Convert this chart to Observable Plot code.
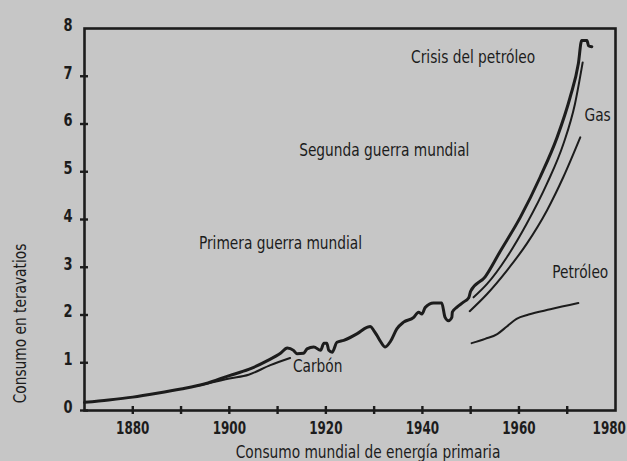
<!DOCTYPE html>
<html>
<head>
<meta charset="utf-8">
<script src="https://cdn.jsdelivr.net/npm/d3@7"></script>
<script src="https://cdn.jsdelivr.net/npm/@observablehq/plot@0.6"></script>
<style>
  html, body { margin: 0; padding: 0; background: #c6c6c6; }
  svg text { font-stretch: condensed; }
</style>
</head>
<body>
<div id="chart"></div>
<script>
// ---- data ----
const totalYears  = [1870, 1875, 1880, 1885, 1890, 1895, 1900, 1904, 1908, 1910.6, 1912, 1913.3, 1914, 1915.4, 1916.1, 1917.5, 1918.9, 1919.6, 1920.2, 1920.6, 1921.3, 1922.3, 1923.7, 1926.5, 1928.5, 1929.2, 1929.9, 1930.6, 1931.3, 1932.3, 1933.4, 1934.7, 1936.1, 1938.2, 1939.2, 1939.9, 1940.6, 1942.3, 1944.0, 1944.7, 1945.4, 1946.1, 1946.2, 1947.1, 1948.5, 1949.6, 1950.0, 1953.0, 1956.1, 1960.3, 1964.4, 1967.9, 1970.6, 1972.3, 1973.0, 1974.1, 1974.4, 1975.1];
const totalValues = [0.17, 0.22, 0.28, 0.36, 0.45, 0.56, 0.73, 0.86, 1.05, 1.2, 1.31, 1.26, 1.19, 1.2, 1.29, 1.33, 1.26, 1.41, 1.41, 1.26, 1.22, 1.43, 1.47, 1.61, 1.74, 1.76, 1.68, 1.57, 1.45, 1.33, 1.45, 1.71, 1.85, 1.95, 2.06, 2.02, 2.16, 2.25, 2.25, 1.95, 1.88, 1.95, 2.06, 2.16, 2.27, 2.36, 2.5, 2.8, 3.33, 4.05, 4.89, 5.72, 6.56, 7.26, 7.75, 7.75, 7.64, 7.62];

const carbonYears  = [1893, 1897, 1900, 1904, 1908.5, 1912.6];
const carbonValues = [0.51, 0.6, 0.67, 0.75, 0.95, 1.1];

const secondYears  = [1950.6, 1953.4, 1957.5, 1961.6, 1965.8, 1969.2, 1971.6, 1973.2];
const secondValues = [2.37, 2.65, 3.21, 3.91, 4.75, 5.58, 6.42, 7.29];

const thirdYears  = [1949.8, 1953.4, 1957.5, 1961.6, 1965.8, 1969.2, 1972.7];
const thirdValues = [2.08, 2.44, 2.93, 3.49, 4.19, 4.89, 5.72];

const oilYears  = [1950.2, 1953, 1955.5, 1957.5, 1959.5, 1962, 1966.5, 1972.3];
const oilValues = [1.41, 1.5, 1.6, 1.76, 1.92, 2.01, 2.12, 2.25];

const xTickLabels = [1880, 1900, 1920, 1940, 1960, 1980];
const xTickMarks  = [1880, 1890, 1900, 1910, 1920, 1930, 1940, 1950, 1960, 1970];
const yTickLabels = [0, 1, 2, 3, 4, 5, 6, 7, 8];
const yTickMarks  = [0, 1, 2, 3, 4, 5, 6, 7];

const labelTexts  = ["Crisis del petróleo", "Segunda guerra mundial", "Primera guerra mundial", "Carbón", "Petróleo", "Gas"];
const labelYears  = [1950.5, 1932.1, 1910.6, 1918.3, 1972.7, 1976.3];
const labelValues = [7.39, 5.44, 3.50, 0.92, 2.89, 6.18];

const xTitle = "Consumo mundial de energía primaria";
const yTitle = "Consumo en teravatios";

// ---- build tables ----
const toRows = (series, ys, vs) => ys.map((y, i) => ({series, year: y, value: vs[i]}));
const totalRows  = toRows("total", totalYears, totalValues);
const thinRows   = [
  ...toRows("carbon", carbonYears, carbonValues),
  ...toRows("second", secondYears, secondValues),
  ...toRows("third", thirdYears, thirdValues),
  ...toRows("oil", oilYears, oilValues)
];
const labels = labelTexts.map((t, i) => ({text: t, year: labelYears[i], value: labelValues[i]}));

// ---- layout ----
const W = 627, H = 461;
const mL = 84, mR = 12, mT = 28, mB = 51;
const frameW = W - mL - mR, frameH = H - mT - mB;
const ink = "#1c1c1c";
const font = "'Liberation Sans Narrow', 'Arial Narrow', 'DejaVu Sans Condensed', 'Roboto Condensed', 'DejaVu Sans', sans-serif";

const chart = Plot.plot({
  width: W, height: H,
  marginLeft: mL, marginRight: mR, marginTop: mT, marginBottom: mB,
  x: {domain: [1870, 1980]},
  y: {domain: [0, 8]},
  style: {background: "#c6c6c6", color: ink, fontFamily: font},
  marks: [
    Plot.frame({stroke: ink, strokeWidth: 2.6}),
    // tick marks crossing the axes
    Plot.tickY(yTickMarks, {y: d => d, stroke: ink, strokeWidth: 2.4, insetRight: frameW - 8, dx: -4}),
    Plot.tickX(xTickMarks, {x: d => d, stroke: ink, strokeWidth: 2.4, insetTop: frameH - 8, dy: 4}),
    // tick labels
    Plot.axisY({ticks: yTickLabels, tickSize: 0, tickPadding: 12, dy: -3, fontSize: 17, fontWeight: "bold", fontFamily: font, label: null}),
    Plot.axisX({ticks: xTickLabels, tickSize: 0, tickPadding: 11, fontSize: 18, fontWeight: "bold", fontFamily: font, label: null, tickFormat: d => String(d)}),
    // axis titles
    Plot.text([xTitle], {text: d => d, frameAnchor: "bottom", textAnchor: "middle", lineAnchor: "middle", dx: 18, dy: 42, fontSize: 17, fontFamily: font, fill: ink}),
    Plot.text([yTitle], {text: d => d, frameAnchor: "left", textAnchor: "middle", lineAnchor: "middle", rotate: -90, dx: -64, dy: 104, fontSize: 17, fontFamily: font, fill: ink}),
    // series
    Plot.line(thinRows, {x: "year", y: "value", z: "series", stroke: ink, strokeWidth: 2, curve: "monotone-x"}),
    Plot.line(totalRows, {x: "year", y: "value", stroke: ink, strokeWidth: 3, curve: "monotone-x", strokeLinejoin: "round"}),
    // annotations
    Plot.text(labels, {x: "year", y: "value", text: "text", fontSize: 17, fontFamily: font, fill: ink})
  ]
});
document.getElementById("chart").append(chart);

// condense the glyphs horizontally (the reference uses a condensed typeface)
const squeeze = (sel, k) => chart.querySelectorAll(sel).forEach(t => {
  const tr = t.getAttribute("transform") || "";
  t.setAttribute("transform", (tr + ` scale(${k},1)`).trim());
});
squeeze('g[aria-label="x-axis tick label"] text', 0.74);
squeeze('g[aria-label="y-axis tick label"] text', 0.85);
squeeze('g[aria-label="text"] text', 0.9);

// keep the last x tick label inside the picture
const svgBox = chart.getBoundingClientRect();
chart.querySelectorAll('g[aria-label="x-axis tick label"] text').forEach(t => {
  const r = t.getBoundingClientRect();
  const over = r.right - (svgBox.left + W - 1);
  if (over > 0) t.setAttribute("dx", (-over / 0.74).toFixed(1));
});
</script>
</body>
</html>
